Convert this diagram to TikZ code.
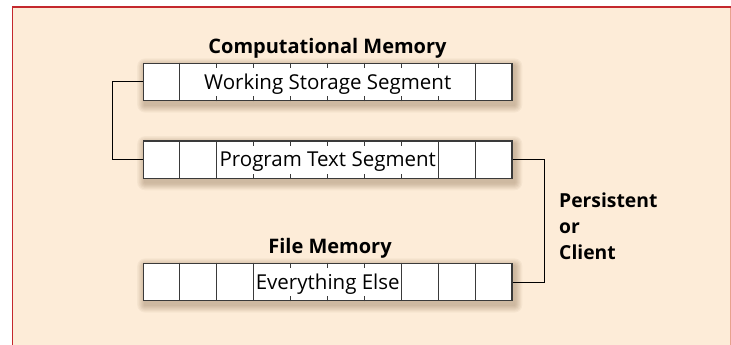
\documentclass[tikz,border=0pt]{standalone}
\usepackage{fontspec}
\setmainfont{Open Sans}
\usetikzlibrary{calc,backgrounds}

\definecolor{paper}{RGB}{253,236,216}
\definecolor{framered}{RGB}{196,40,45}
\definecolor{framesalmon}{RGB}{232,162,142}
\definecolor{barline}{RGB}{58,58,58}
\definecolor{shade}{RGB}{90,55,20}

\pgfdeclarelayer{backdrop}
\pgfsetlayers{backdrop,background,main}

\tikzset{
  membar/.style={draw=barline, line width=1.2pt, fill=white, inner sep=0pt,
    minimum width=368.5pt, minimum height=37.5pt},
  divider/.style={draw=barline, line width=1pt},
  segtext/.style={inner sep=0pt, anchor=base, font=\fontsize{20.5}{24}\selectfont},
  heading/.style={inner sep=0pt, font=\fontsize{20}{24}\selectfont\bfseries},
  link/.style={draw=black, line width=1pt},
  softshade/.style={fill=shade, fill opacity=0.045},
}

% full-height cell walls and short edge ticks of a ten-cell bar
\newcommand{\cellwalls}[3]{%
  \foreach \k in {#2}{
    \draw[divider] ($(#1.north west)!\k/10!(#1.north east)$) --
                   ($(#1.south west)!\k/10!(#1.south east)$);
  }
  \foreach \k in {#3}{
    \draw[divider] ($(#1.north west)!\k/10!(#1.north east)$) -- ++(0,5.5);
    \draw[divider] ($(#1.south west)!\k/10!(#1.south east)$) -- ++(0,-5.5);
  }%
}

% soft drop shadow behind a bar, built from stacked translucent rectangles
\newcommand{\barshade}[1]{%
  \begin{scope}[on background layer]
    \foreach \r in {1,...,7}{
      \fill[softshade, rounded corners=\r*1.1pt]
        ($(#1.north west)+(2-\r*1.1,3.5-\r*1.1)$) rectangle
        ($(#1.south east)+(2+\r*1.1,3.5+\r*1.1)$);
    }
  \end{scope}%
}

\begin{document}
\begin{tikzpicture}[x=1pt,y=-1pt]
  \useasboundingbox (0,0) rectangle (731,345);

  % page background and frame
  \begin{pgfonlayer}{backdrop}
    \fill[white] (0,0) rectangle (731,345);
    \fill[paper] (12.3,7) rectangle (731,345);
  \end{pgfonlayer}
  \draw[framesalmon, line width=1.2pt] (730.2,7) -- (730.2,345);
  \draw[framered, line width=1.6pt] (12.3,345.5) -- (12.3,7) -- (731,7);

  % computational memory
  \node[heading, anchor=base] (cmtitle) at (327.5,54) {Computational Memory};
  \node[membar] (ws) at (327.75,82) {};
  \barshade{ws}
  \cellwalls{ws}{1,9}{2,3,4,5,6,7,8}
  \node[segtext] (wstext) at ($(ws.center)+(0,7.2)$) {Working Storage Segment};

  \node[membar] (pt) at (327.75,159.7) {};
  \barshade{pt}
  \cellwalls{pt}{1,2,8,9}{3,4,5,6,7}
  \node[segtext] (pttext) at ($(pt.center)+(0,7.2)$) {Program Text Segment};

  % file memory
  \node[heading, anchor=base] (fmtitle) at (330,253.3) {File Memory};
  \node[membar] (fm) at (327.75,282) {};
  \barshade{fm}
  \cellwalls{fm}{1,2,3,7,8,9}{4,5,6}
  \node[segtext] (fmtext) at ($(fm.center)+(0,7.2)$) {Everything Else};

  % connectors
  \draw[link] (ws.west) -- ++(-30.2,0) |- (pt.west);
  \draw[link] (pt.east) -- ++(32.3,0) |- (fm.east);

  \node[heading, anchor=north west, align=left,
        font=\fontsize{19.3}{25.8}\selectfont\bfseries] (pclabel) at (559,192.7)
        {Persistent\\or\\Client};
\end{tikzpicture}
\end{document}
